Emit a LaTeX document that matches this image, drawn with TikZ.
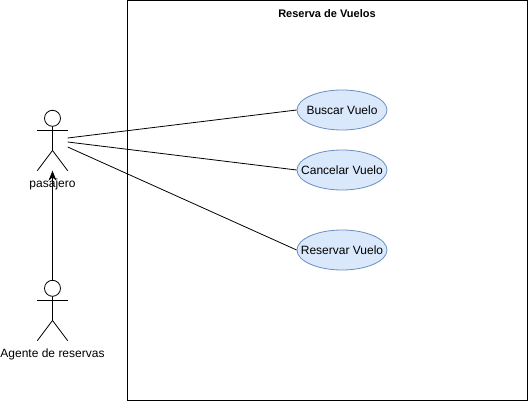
\documentclass[tikz,border=0pt]{standalone}
\usepackage{fontspec}
\setmainfont{Liberation Sans}
\usepackage{tikz}
\usetikzlibrary{arrows.meta,calc,positioning,shapes.geometric}
\definecolor{CaseFill}{HTML}{DAE8FC}
\definecolor{CaseDraw}{HTML}{6C8EBF}
\tikzset{
  caja/.style={draw=black, line width=1pt, minimum width=400pt, minimum height=400pt, inner sep=0pt},
  titulo/.style={font=\fontsize{11}{13}\selectfont\bfseries, inner sep=0pt},
  caso/.style={ellipse, draw=CaseDraw, fill=CaseFill, line width=0.8pt, minimum width=90pt, minimum height=40pt, inner xsep=-12pt, inner ysep=0pt, font=\fontsize{12}{14}\selectfont},
  actorbox/.style={minimum width=30pt, minimum height=60pt, inner sep=0pt},
  etiqueta/.style={font=\fontsize{12}{14}\selectfont, inner sep=0pt},
  enlace/.style={draw=black, line width=0.8pt}
}
\newcommand{\actor}[3]{%
  \node[actorbox] (#1) at (#2) {};
  \draw[line width=0.8pt] ($(#1.north)+(0,8)$) circle (8pt);
  \draw[line width=0.8pt] ($(#1.north)+(0,16)$) -- ($(#1.center)+(0,10)$)
    -- (#1.south west);
  \draw[line width=0.8pt] ($(#1.center)+(0,10)$) -- (#1.south east);
  \draw[line width=0.8pt] ($(#1.west)+(0,-10)$) -- ($(#1.east)+(0,-10)$);
  \node[etiqueta, below=13.2pt of #1.south, anchor=center] (#1-label) {#3};
}

\begin{document}
\begin{tikzpicture}[x=1pt,y=-1pt]
  \useasboundingbox (0,0) rectangle (528,401);
  \node[caja] (sistema) at (327.5,200.5) {};
  \node[titulo] (titulo) at (327,13.5) {Reserva de Vuelos};

  \actor{pasajero}{52.5,140.5}{pasajero}
  \actor{agente}{52.5,310.5}{Agente de reservas}

  \node[caso] (buscar) at (342,110) {Buscar Vuelo};
  \node[caso] (cancelar) at (342,170) {Cancelar Vuelo};
  \node[caso] (reservar) at (342,250) {Reservar Vuelo};

  \draw[enlace] ($(pasajero.east)+(0,-2.5)$) -- (buscar.west);
  \draw[enlace] ($(pasajero.east)+(0,1.5)$) -- (cancelar.west);
  \draw[enlace] ($(pasajero.east)+(0,6.5)$) -- (reservar.west);
  \draw[enlace, -{Stealth[length=10pt,width=8pt]}] (agente.north) -- (pasajero.south);
\end{tikzpicture}
\end{document}
